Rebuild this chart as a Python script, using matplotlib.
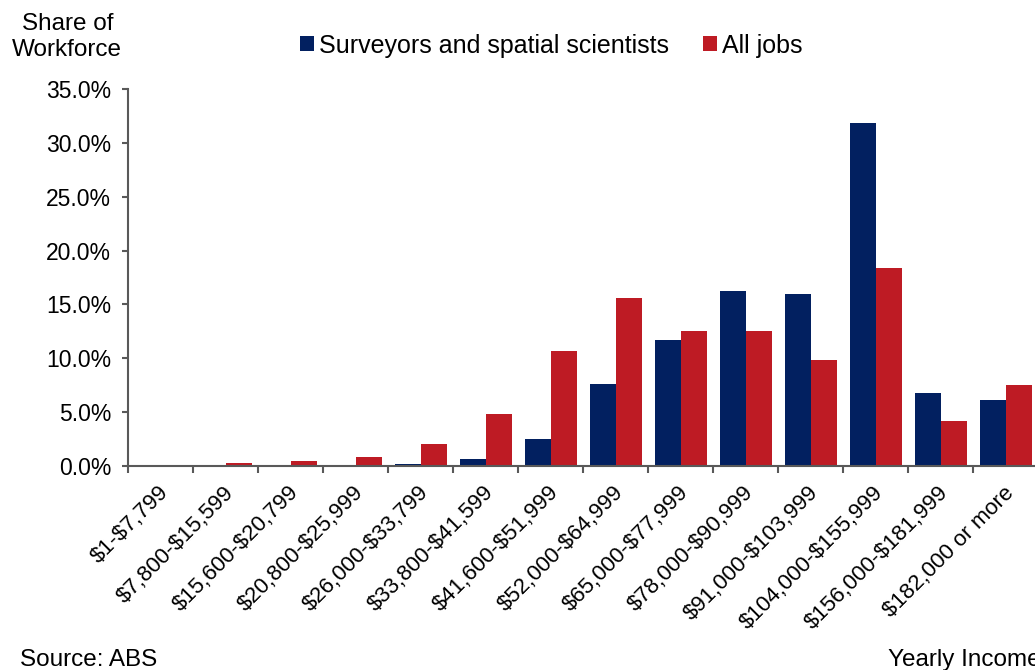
import matplotlib.pyplot as plt
import matplotlib.transforms as mtransforms
import numpy as np

plt.rcParams['font.family'] = ['Liberation Sans', 'DejaVu Sans']
plt.rcParams['text.parse_math'] = False

income_bands = ["$1-$7,799", "$7,800-$15,599", "$15,600-$20,799", "$20,800-$25,999",
                "$26,000-$33,799", "$33,800-$41,599", "$41,600-$51,999", "$52,000-$64,999",
                "$65,000-$77,999", "$78,000-$90,999", "$91,000-$103,999", "$104,000-$155,999",
                "$156,000-$181,999", "$182,000 or more"]
surveyors = [0.0, 0.0, 0.0, 0.0, 0.2, 0.65, 2.5, 7.65, 11.65, 16.25, 15.95, 31.85, 6.75, 6.1]
all_jobs = [0.12, 0.25, 0.45, 0.8, 2.0, 4.8, 10.7, 15.55, 12.5, 12.5, 9.8, 18.35, 4.2, 7.5]

navy = "#022060"
red = "#BE1B24"
grey = "#595959"
fs = 17.5

fig = plt.figure(figsize=(10.35, 6.7), dpi=100)
ax = fig.add_axes([0.1237, 0.3045, 0.8792, 0.5627])

x = np.arange(len(income_bands))
w = 0.4
ax.bar(x - w / 2, surveyors, w, color=navy, label="Surveyors and spatial scientists")
ax.bar(x + w / 2, all_jobs, w, color=red, label="All jobs")

ax.set_xlim(-0.5, len(income_bands) - 0.5)
ax.set_ylim(0, 35)
ax.set_yticks(np.arange(0, 36, 5))
ax.set_yticklabels([f"{v:.1f}%" for v in np.arange(0, 36, 5)], fontsize=16.5)

# category labels at the centres, tick marks on the boundaries
ax.set_xticks(x)
ax.set_xticklabels(income_bands, rotation=45, ha="right", va="center",
                   rotation_mode="anchor", fontsize=16)
ax.tick_params(axis="x", which="major", length=0, pad=17)
shift = mtransforms.ScaledTranslation(5 / 100, 0, fig.dpi_scale_trans)
for lbl in ax.get_xticklabels():
    lbl.set_transform(lbl.get_transform() + shift)
ax.set_xticks(np.arange(-0.5, len(income_bands), 1), minor=True)
ax.tick_params(axis="x", which="minor", length=5, width=1.5, color=grey, direction="out")
ax.tick_params(axis="y", length=4, width=1.5, color=grey, direction="out", pad=8)

for s in ["top", "right"]:
    ax.spines[s].set_visible(False)
for s in ["left", "bottom"]:
    ax.spines[s].set_color(grey)
    ax.spines[s].set_linewidth(1.5)

fig.legend(loc="center left", bbox_to_anchor=(0.2685, 0.932), ncol=2, frameon=False,
           fontsize=18, handlelength=0.55, handleheight=0.55, handletextpad=0.2,
           columnspacing=1.35)

fig.text(0.065, 0.945, "Share of\nWorkforce", ha="center", va="center", fontsize=fs,
         linespacing=1.2)
fig.text(0.019, 0.015, "Source: ABS", ha="left", va="center", fontsize=fs)
fig.text(0.858, 0.015, "Yearly Income", ha="left", va="center", fontsize=fs)

fig.savefig("out.png", dpi=100)
